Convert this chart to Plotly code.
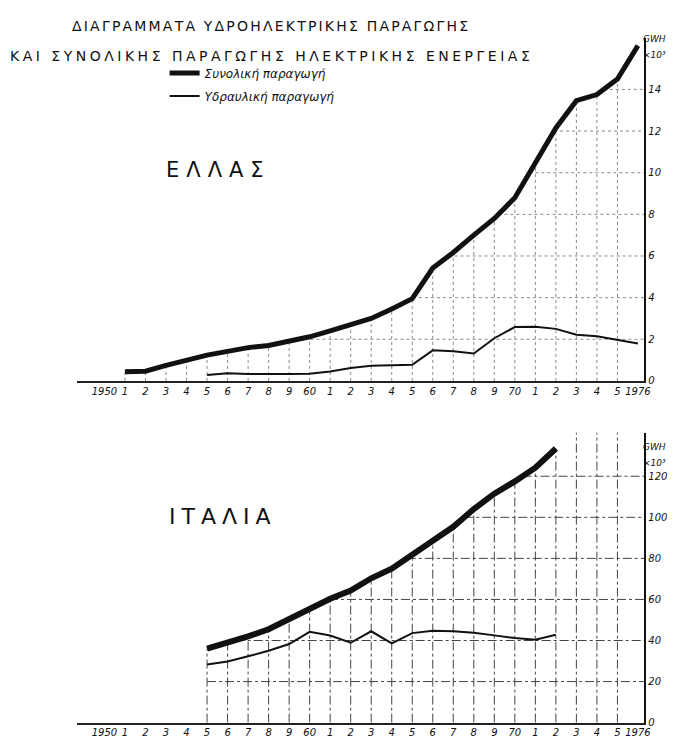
import numpy as np
import plotly.graph_objects as go

# ---------------- data ----------------
greek_total_years = list(range(1951, 1977))
greek_total = [0.44, 0.47, 0.75, 1.0, 1.24, 1.42, 1.6, 1.7, 1.9, 2.12, 2.4, 2.68, 3.0,
               3.45, 3.95, 5.42, 6.17, 7.0, 7.8, 8.8, 10.5, 12.15, 13.46, 13.75, 14.5, 16.1]
greek_hydro_years = list(range(1955, 1977))
greek_hydro = [0.29, 0.37, 0.33, 0.32, 0.33, 0.34, 0.45, 0.62, 0.73, 0.75, 0.78,
               1.47, 1.43, 1.32, 2.05, 2.59, 2.6, 2.5, 2.22, 2.15, 1.97, 1.8]

italy_years = list(range(1955, 1973))
italy_total = [36, 38.7, 42, 45.5, 50.5, 55, 60.3, 64.3, 70.3, 75, 81.8, 88.5, 95.4,
               104, 111.5, 117.5, 124.2, 133.5]
italy_hydro = [28.3, 29.8, 32.3, 35.0, 38.3, 44.2, 42.4, 38.9, 44.5, 38.6, 43.6, 44.7,
               44.5, 43.8, 42.5, 41.2, 40.4, 42.8]

x_tick_years = list(range(1950, 1977))
x_tick_text = ["1950", "1", "2", "3", "4", "5", "6", "7", "8", "9",
               "60", "1", "2", "3", "4", "5", "6", "7", "8", "9",
               "70", "1", "2", "3", "4", "5", "1976"]
greek_yticks = [0, 2, 4, 6, 8, 10, 12, 14]
italy_yticks = [0, 20, 40, 60, 80, 100, 120]

title_line1 = "ΔΙΑΓΡΑΜΜΑΤΑ ΥΔΡΟΗΛΕΚΤΡΙΚΗΣ ΠΑΡΑΓΩΓΗΣ"
title_line2 = "ΚΑΙ ΣΥΝΟΛΙΚΗΣ ΠΑΡΑΓΩΓΗΣ ΗΛΕΚΤΡΙΚΗΣ ΕΝΕΡΓΕΙΑΣ"
country_gr = "ΕΛΛΑΣ"
country_it = "ΙΤΑΛΙΑ"
legend_total = "Συνολική παραγωγή"
legend_hydro = "Υδραυλική παραγωγή"
unit_1 = "GWH"
unit_2 = "×10³"

# ---------------- layout geometry ----------------
W, H = 677, 737
def fx(px):
    return px / W
def fy(py):
    return 1 - py / H

X_RANGE = [1948.68, 1976.31]
GR_RANGE = [0, 16.48]
IT_RANGE = [0, 141.3]
FONT = "DejaVu Sans"

fig = go.Figure()


def grid(years, total, ymax, levels, xa, ya, color, dash):
    vx, vy = [], []
    for yr in x_tick_years:
        if yr < years[0] or yr >= X_RANGE[1] - 0.5:
            continue
        top = float(np.interp(yr, years, total)) if yr <= years[-1] else ymax
        vx += [yr, yr, None]
        vy += [0, top, None]
    hx, hy = [], []
    for lv in levels[1:]:
        start = years[0] if lv <= total[0] else float(np.interp(lv, total, years))
        hx += [start, X_RANGE[1], None]
        hy += [lv, lv, None]
    for gx, gy in ((vx, vy), (hx, hy)):
        fig.add_trace(go.Scatter(x=gx, y=gy, mode="lines", xaxis=xa, yaxis=ya,
                                 line=dict(color=color, width=1, dash=dash),
                                 showlegend=False, hoverinfo="skip"))


grid(greek_total_years, greek_total, GR_RANGE[1], greek_yticks, "x", "y", "#8a8a8a", "dot")
grid(italy_years, italy_total, IT_RANGE[1], italy_yticks, "x2", "y2", "#444444", "dashdot")

# Greece
fig.add_trace(go.Scatter(x=greek_hydro_years, y=greek_hydro, mode="lines", name=legend_hydro,
                         legendrank=2, legendgroup="h", xaxis="x", yaxis="y",
                         line=dict(color="#111111", width=2)))
fig.add_trace(go.Scatter(x=greek_total_years, y=greek_total, mode="lines", name=legend_total,
                         legendrank=1, legendgroup="t", xaxis="x", yaxis="y",
                         line=dict(color="#111111", width=5)))
# Italy
fig.add_trace(go.Scatter(x=italy_years, y=italy_hydro, mode="lines", showlegend=False,
                         xaxis="x2", yaxis="y2", line=dict(color="#111111", width=2)))
fig.add_trace(go.Scatter(x=italy_years, y=italy_total, mode="lines", showlegend=False,
                         xaxis="x2", yaxis="y2", line=dict(color="#111111", width=6)))

tickfont = dict(family=FONT, size=10, color="#111111", style="italic")
xcommon = dict(range=X_RANGE, domain=[fx(70), fx(642)], tickmode="array",
               tickvals=x_tick_years, ticktext=x_tick_text, tickangle=0,
               showgrid=False, zeroline=False, showline=True, linecolor="#222222",
               linewidth=1.5, ticks="", tickfont=tickfont, fixedrange=True)
ycommon = dict(side="right", showgrid=False, zeroline=False, showline=True,
               linecolor="#111111", linewidth=2, ticks="", tickfont=tickfont,
               tickmode="array", fixedrange=True)

unit_font = dict(family=FONT, size=9, color="#111", style="italic")
annotations = [
    dict(text=title_line1, x=fx(63), y=fy(18)),
    dict(text=title_line2, x=fx(0), y=fy(48)),
    dict(text=country_gr, x=fx(157), y=fy(163), font=dict(family=FONT, size=21, color="#111")),
    dict(text=country_it, x=fx(160), y=fy(513), font=dict(family=FONT, size=22, color="#111")),
    dict(text=unit_1, x=fx(639), y=fy(31), font=unit_font),
    dict(text=unit_2, x=fx(639), y=fy(47), font=unit_font),
    dict(text=unit_1, x=fx(639), y=fy(443), font=unit_font),
    dict(text=unit_2, x=fx(639), y=fy(459), font=unit_font),
]
for a in annotations:
    a.setdefault("font", dict(family=FONT, size=14, color="#111"))
    a.update(xref="paper", yref="paper", xanchor="left", yanchor="middle",
             align="left", showarrow=False)

fig.update_layout(
    width=W, height=H,
    margin=dict(l=0, r=0, t=0, b=0),
    paper_bgcolor="white", plot_bgcolor="white",
    font=dict(family=FONT, color="#111"),
    xaxis=dict(anchor="y", **xcommon),
    xaxis2=dict(anchor="y2", **xcommon),
    yaxis=dict(anchor="x", domain=[fy(376), fy(30)], range=GR_RANGE,
               tickvals=greek_yticks, **ycommon),
    yaxis2=dict(anchor="x2", domain=[fy(720.5), fy(428)], range=IT_RANGE,
                tickvals=italy_yticks, **ycommon),
    showlegend=True,
    legend=dict(x=fx(158), y=fy(51), xanchor="left", yanchor="top",
                bgcolor="rgba(0,0,0,0)", tracegroupgap=4,
                font=dict(family=FONT, size=12, color="#111", style="italic")),
    annotations=annotations,
)

post_js = """
var sp = {};
sp[%s] = '2.2px';
sp[%s] = '3.5px';
sp[%s] = '7px';
sp[%s] = '6px';
document.querySelectorAll('.annotation-text').forEach(function(t){
  var s = sp[t.textContent];
  if (s !== undefined) { t.style.letterSpacing = s; }
});
""" % (repr(title_line1), repr(title_line2), repr(country_gr), repr(country_it))

fig.write_html("out.html", post_script=post_js, config={"displayModeBar": False})
